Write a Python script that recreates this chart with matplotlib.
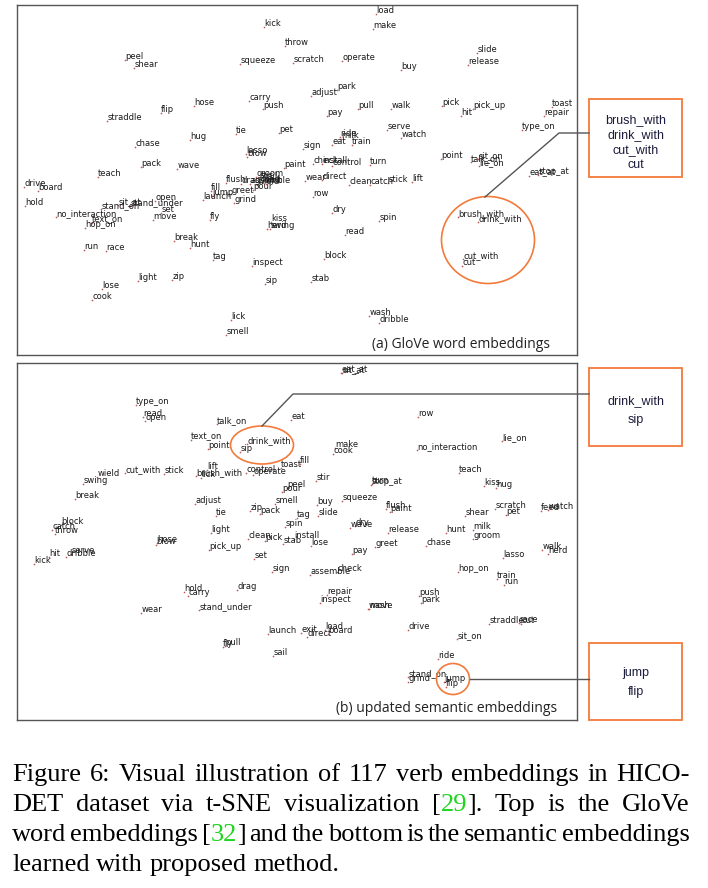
import re
import matplotlib
matplotlib.use('Agg')
import matplotlib.pyplot as plt
from matplotlib.patches import Ellipse, Rectangle

# ---- t-SNE points (word, x, y) for both panels ----
top_words = ['kick', 'throw', 'peel', 'shear', 'squeeze', 'scratch', 'carry', 'push', 'hose', 'flip',
             'straddle', 'tie', 'pet', 'hug', 'chase', 'lasso', 'blow', 'pack', 'wave', 'paint', 'teach', 'sign',
             'load', 'make', 'slide', 'release', 'operate', 'buy', 'park', 'adjust', 'pull', 'walk', 'pay',
             'pick', 'pick_up', 'hit', 'toast', 'repair', 'type_on', 'serve', 'watch', 'ride', 'milk', 'eat',
             'train', 'check', 'install', 'control', 'turn', 'point', 'talk_on', 'sit_on', 'lie_on', 'eat_at',
             'stop_at', 'wear', 'direct',
             'clean', 'catch', 'stick', 'lift', 'row', 'dry', 'spin', 'read', 'block', 'stab', 'wash', 'dribble',
             'brush_with', 'drink_with', 'cut_with', 'cut',
             'drive', 'board', 'hold', 'stand_on', 'sit_at', 'stand_under', 'open', 'set', 'no_interaction',
             'text_on', 'hop_on', 'move', 'fly', 'fill', 'jump', 'launch', 'greet', 'grind', 'flush', 'pour',
             'break', 'hunt', 'run', 'race', 'tag', 'inspect', 'light', 'zip', 'lose', 'cook', 'sip', 'lick',
             'smell', 'kiss', 'herd', 'swing',
             'drag', 'assemble', 'wield', 'groom', 'stir', 'sail', 'feed', 'exit']
top_x = [264, 285, 125, 134, 240, 293, 249, 263, 194, 161,
         107, 236, 279, 190, 135, 246, 247, 141, 177, 284, 98, 303,
         376, 373, 477, 468, 342, 401, 337, 311, 358, 391, 327,
         442, 473, 461, 552, 544, 522, 387, 401, 340, 341, 332,
         352, 313, 322, 332, 370, 441, 471, 478, 479, 529,
         538, 305, 322,
         349, 370, 388, 412, 313, 332, 379, 345, 324, 311, 369, 379,
         458, 478, 463, 462,
         24, 38, 25, 101, 118, 130, 155, 161, 56,
         92, 85, 153, 210, 211, 212, 203, 231, 234, 226, 253,
         174, 190, 84, 106, 213, 252, 138, 172, 102, 92, 265, 231,
         226, 271, 267, 270,
         241, 250, 257, 256, 259, 263, 262, 266]
top_y = [24, 43, 57, 65, 61, 60, 98, 106, 103, 110,
         118, 131, 130, 137, 144, 151, 154, 164, 166, 165, 174, 146,
         11, 26, 50, 62, 58, 67, 87, 93, 106, 106, 113,
         103, 106, 113, 104, 113, 127, 127, 135, 134, 136, 142,
         142, 161, 161, 163, 162, 156, 159, 156, 163, 173,
         172, 178, 177,
         182, 182, 180, 179, 194, 210, 218, 232, 256, 279, 313, 320,
         214, 219, 256, 263,
         184, 188, 203, 206, 202, 203, 198, 210, 214,
         220, 225, 217, 217, 188, 193, 197, 191, 200, 180, 187,
         238, 245, 247, 248, 257, 263, 278, 277, 286, 297, 281, 317,
         332, 219, 226, 226,
         181, 181, 182, 174, 176, 177, 180, 181]

bot_words = ['type_on', 'read', 'open', 'talk_on', 'eat', 'text_on', 'point', 'drink_with', 'sip', 'wield',
             'swing', 'cut_with', 'stick', 'lift', 'brush_with', 'lick', 'control', 'operate', 'toast', 'fill',
             'break', 'adjust', 'peel', 'pour', 'smell', 'tie', 'zip', 'pack', 'tag', 'spin',
             'block', 'catch', 'throw', 'light', 'clean', 'pick', 'stab', 'install', 'blow', 'hose',
             'eat_at', 'sit_at', 'row', 'lie_on', 'make', 'cook', 'no_interaction', 'teach', 'stir', 'stop_at',
             'turn', 'kiss', 'hug', 'buy', 'squeeze', 'flush', 'paint', 'shear', 'scratch', 'pet',
             'feed', 'watch', 'slide', 'dry', 'wave', 'release', 'hunt', 'milk', 'groom',
             'lose', 'greet', 'chase', 'pay', 'lasso', 'walk', 'herd', 'assemble', 'check', 'hop_on',
             'train', 'run', 'repair', 'inspect', 'push', 'park', 'wash', 'move', 'straddle', 'race',
             'cut', 'exit', 'direct', 'load', 'board', 'drive', 'sit_on', 'ride', 'stand_on', 'grind',
             'jump', 'flip',
             'pick_up', 'set', 'hit', 'dribble', 'serve', 'kick', 'sign', 'hold', 'carry', 'drag',
             'stand_under', 'wear', 'launch', 'pull', 'fly', 'sail']
bot_x = [136, 143, 145, 217, 291, 191, 208, 247, 240, 97,
         83, 125, 164, 207, 196, 201, 246, 253, 281, 300,
         75, 195, 287, 282, 275, 216, 250, 260, 297, 285,
         61, 52, 55, 211, 248, 265, 283, 294, 156, 157,
         341, 342, 418, 502, 335, 333, 417, 459, 316, 371,
         372, 484, 496, 317, 342, 386, 390, 465, 495, 506,
         541, 548, 318, 355, 350, 388, 446, 473, 473,
         311, 375, 426, 352, 503, 542, 548, 310, 337, 458,
         497, 504, 327, 320, 419, 421, 368, 369, 489, 519,
         521, 301, 307, 325, 328, 408, 457, 438, 408, 408,
         444, 446,
         209, 254, 49, 66, 71, 34, 272, 184, 188, 237,
         199, 141, 268, 225, 223, 273]
bot_y = [402, 414, 418, 421, 417, 437, 446, 441, 449, 474,
         481, 470, 471, 467, 473, 475, 470, 472, 465, 461,
         496, 501, 485, 489, 501, 513, 508, 511, 515, 524,
         522, 527, 531, 530, 536, 538, 541, 536, 542, 540,
         370, 370, 414, 438, 445, 451, 447, 470, 478, 482,
         481, 483, 485, 502, 498, 506, 509, 513, 506, 512,
         508, 507, 513, 523, 525, 530, 530, 527, 536,
         543, 544, 543, 551, 555, 547, 551, 572, 569, 569,
         576, 582, 592, 600, 593, 600, 606, 606, 621, 620,
         621, 630, 634, 627, 631, 627, 636, 656, 674, 679,
         679, 684,
         547, 556, 554, 554, 551, 561, 569, 589, 593, 587,
         607, 610, 631, 643, 644, 653]

W, H = 708, 888
fig = plt.figure(figsize=(7.08, 8.88), dpi=100)
fig.patch.set_facecolor('white')

DOT = '#c05a5a'
TXT = '#1a1a1a'
ORANGE = '#f37a3a'
EDGE = '#555555'


def panel(x0, y0, x1, y1, words, xs, ys, label, label_x):
    ax = fig.add_axes([x0 / W, 1 - y1 / H, (x1 - x0) / W, (y1 - y0) / H])
    ax.set_xlim(x0, x1)
    ax.set_ylim(y1 - 3, y0 - 3)
    ax.set_xticks([])
    ax.set_yticks([])
    for s in ax.spines.values():
        s.set_color(EDGE)
        s.set_linewidth(1.0)
    ax.scatter(xs, ys, s=1.5, color=DOT, linewidths=0, zorder=3)
    for w, xi, yi in zip(words, xs, ys):
        ax.annotate(w, (xi, yi), xytext=(0.2, 2.2), textcoords='offset points',
                    fontsize=6, color=TXT, ha='left', va='center')
    ax.text(label_x, y1 - 14, label, fontsize=10, family='Open Sans', color='#222222',
            ha='right', va='center')
    return ax


panel(17, 5, 577, 355, top_words, top_x, top_y, '(a) GloVe word embeddings', 550)
panel(17, 363, 577, 720, bot_words, bot_x, bot_y, '(b) updated semantic embeddings', 557)

# overlay in pixel coordinates for callouts and caption
ov = fig.add_axes([0, 0, 1, 1], facecolor='none')
ov.set_xlim(0, W)
ov.set_ylim(H, 0)
ov.axis('off')

# circles
ov.add_patch(Ellipse((488, 240), 93, 87, fill=False, edgecolor=ORANGE, lw=1.2))
ov.add_patch(Ellipse((262, 445), 63, 38, fill=False, edgecolor=ORANGE, lw=1.2))
ov.add_patch(Ellipse((453, 679), 33, 31, fill=False, edgecolor=ORANGE, lw=1.2))

# leader lines
ov.plot([485, 559, 589], [197, 133, 133], color=EDGE, lw=1.0)
ov.plot([262, 293, 589], [426, 394, 394], color=EDGE, lw=1.0)
ov.plot([470, 589], [679, 679], color=EDGE, lw=1.0)

# callout boxes
for (bx, by, bw, bh, lines, y0, step) in [(589, 99, 93, 78, ['brush_with', 'drink_with', 'cut_with', 'cut'], 120, 15),
                                          (589, 368, 93, 78, ['drink_with', 'sip'], 401, 19),
                                          (589, 643, 93, 77, ['jump', 'flip'], 673, 19)]:
    ov.add_patch(Rectangle((bx, by), bw, bh, fill=False, edgecolor=ORANGE, lw=1.3))
    for i, t in enumerate(lines):
        ov.text(bx + bw / 2, y0 + i * step, t,
                fontsize=9, family='Liberation Sans', color='#1c1c3c', ha='center', va='center')

# caption (justified serif text)
CAP_FS = 19
CAP_FONT = 'Liberation Serif'
GREEN = '#1ed41e'
cap_lines = ['Figure 6:  Visual illustration of 117 verb embeddings in HICO-',
             'DET dataset via t-SNE visualization [{29}].  Top is the GloVe',
             'word embeddings [{32}] and the bottom is the semantic embeddings',
             'learned with proposed method.']
cap_base = [781, 811, 841, 871]
cap_just = [True, True, True, False]
CAP_L, CAP_R = 12, 690

renderer = fig.canvas.get_renderer()


def seg_width(t):
    tt = ov.text(0, 0, t, fontsize=CAP_FS, family=CAP_FONT)
    w = tt.get_window_extent(renderer).width
    tt.remove()
    return w


def segments(word):
    out = []
    for part in re.split(r'(\{[^}]*\})', word):
        if not part:
            continue
        if part.startswith('{'):
            out.append((part[1:-1], GREEN))
        else:
            out.append((part, 'black'))
    return out


space_w = seg_width('a b') - seg_width('ab')
for line, base, just in zip(cap_lines, cap_base, cap_just):
    words = [segments(w) for w in line.split()]
    widths = [[seg_width(t) for t, c in segs] for segs in words]
    total = sum(sum(ws) for ws in widths)
    gap = (CAP_R - CAP_L - total) / (len(words) - 1) if just else space_w
    x = CAP_L
    for segs, ws in zip(words, widths):
        for (t, c), w in zip(segs, ws):
            ov.text(x, base, t, fontsize=CAP_FS, family=CAP_FONT, color=c, ha='left', va='baseline')
            x += w
        x += gap

fig.savefig('out.png', dpi=100, facecolor='white')
